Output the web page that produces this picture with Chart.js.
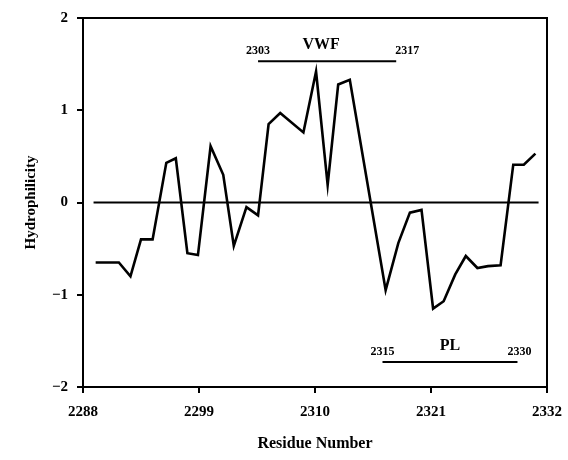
<!DOCTYPE html>
<html>
<head>
<meta charset="utf-8">
<script src="https://cdn.jsdelivr.net/npm/chart.js@4"></script>
<style>
  html, body { margin: 0; padding: 0; background: #fff; }
  #wrap { width: 568px; height: 460px; }
</style>
</head>
<body>
<div id="wrap"><canvas id="chart" width="568" height="460"></canvas></div>
<script>
// hydrophilicity profile
const residues = [2289.2, 2291.4, 2292.5, 2293.5, 2294.6, 2295.9, 2296.8, 2297.9, 2298.9, 2300.1,
  2301.3, 2302.3, 2303.5, 2304.6, 2305.6, 2306.7, 2308.9, 2310.1, 2311.2, 2312.2,
  2313.3, 2316.7, 2317.9, 2319.0, 2320.1, 2321.2, 2322.2, 2323.3, 2324.3, 2325.4,
  2326.4, 2327.6, 2328.8, 2329.8, 2330.9];
const hydrophilicity = [-0.65, -0.65, -0.80, -0.40, -0.40, 0.43, 0.48, -0.55, -0.57, 0.61,
  0.30, -0.47, -0.05, -0.14, 0.85, 0.97, 0.76, 1.42, 0.19, 1.28,
  1.33, -0.95, -0.44, -0.11, -0.08, -1.15, -1.07, -0.78, -0.58, -0.71,
  -0.69, -0.68, 0.41, 0.41, 0.53];

const xTicks = [2288, 2299, 2310, 2321, 2332];
const yTicks = [-2, -1, 0, 1, 2];

// marked regions
const regionNames = ['VWF', 'PL'];
const regionStart = [2304.6, 2316.4];
const regionEnd = [2317.7, 2329.2];
const regionLevel = [1.53, -1.73];
const regionStartLabels = ['2303', '2315'];
const regionEndLabels = ['2317', '2330'];

const zeroLine = [2289, 2331.2];

const serif = '"Liberation Serif", "Times New Roman", serif';

const datasets = [
  {
    data: residues.map((r, i) => ({ x: r, y: hydrophilicity[i] })),
    borderColor: '#000',
    borderWidth: 2.6,
    pointRadius: 0,
    tension: 0
  },
  {
    data: zeroLine.map(x => ({ x: x, y: 0 })),
    borderColor: '#000',
    borderWidth: 2,
    pointRadius: 0
  }
];
regionNames.forEach((n, i) => {
  datasets.push({
    data: [{ x: regionStart[i], y: regionLevel[i] }, { x: regionEnd[i], y: regionLevel[i] }],
    borderColor: '#000',
    borderWidth: 2,
    pointRadius: 0
  });
});

const extras = {
  id: 'extras',
  afterDatasetsDraw(chart) {
    const { ctx, chartArea: a, scales: { x, y } } = chart;
    ctx.save();
    ctx.strokeStyle = '#000';
    ctx.lineWidth = 2;
    ctx.strokeRect(a.left, a.top, a.right - a.left, a.bottom - a.top);

    ctx.fillStyle = '#000';
    ctx.textAlign = 'center';
    ctx.textBaseline = 'middle';
    regionNames.forEach((n, i) => {
      const yb = y.getPixelForValue(regionLevel[i]);
      const xs = x.getPixelForValue(regionStart[i]);
      const xe = x.getPixelForValue(regionEnd[i]);
      ctx.font = 'bold 12px ' + serif;
      ctx.fillText(regionStartLabels[i], xs, yb - 10);
      ctx.fillText(regionEndLabels[i], xe + (i === 0 ? 11 : 2), yb - 10);
      ctx.font = 'bold 16px ' + serif;
      ctx.fillText(n, (xs + xe) / 2 + (i === 0 ? -6 : 0), yb - 16);
    });
    ctx.restore();
  }
};

new Chart(document.getElementById('chart'), {
  type: 'line',
  data: { datasets: datasets },
  options: {
    responsive: false,
    animation: false,
    layout: { padding: { top: 18, right: 21, left: 18, bottom: 0 } },
    plugins: { legend: { display: false }, tooltip: { enabled: false } },
    scales: {
      x: {
        type: 'linear',
        min: 2288,
        max: 2332,
        afterBuildTicks: s => { s.ticks = xTicks.map(v => ({ value: v })); },
        afterFit: s => { s.height = 73; s.paddingLeft = 0; s.paddingRight = 0; },
        grid: { drawOnChartArea: false, drawTicks: true, tickLength: 6, color: '#000', lineWidth: 2 },
        border: { color: '#000', width: 2 },
        ticks: { color: '#000', font: { family: serif, size: 15, weight: 'bold' }, padding: 10, maxRotation: 0,
          callback: v => String(v) },
        title: { display: true, text: 'Residue Number', color: '#000', font: { family: serif, size: 16, weight: 'bold' }, padding: { top: 8, bottom: 7 } }
      },
      y: {
        min: -2,
        max: 2,
        afterBuildTicks: s => { s.ticks = yTicks.map(v => ({ value: v })); },
        afterFit: s => { s.width = 65; s.paddingTop = 0; s.paddingBottom = 0; },
        grid: { drawOnChartArea: false, drawTicks: true, tickLength: 6, color: '#000', lineWidth: 2 },
        border: { color: '#000', width: 2 },
        ticks: { color: '#000', font: { family: serif, size: 15, weight: 'bold' }, padding: 9,
          callback: v => (v < 0 ? '\u2212' + Math.abs(v) : String(v)) },
        title: { display: true, text: 'Hydrophilicity', color: '#000', font: { family: serif, size: 15, weight: 'bold' }, padding: { bottom: 8 } }
      }
    }
  },
  plugins: [extras]
});
</script>
</body>
</html>
